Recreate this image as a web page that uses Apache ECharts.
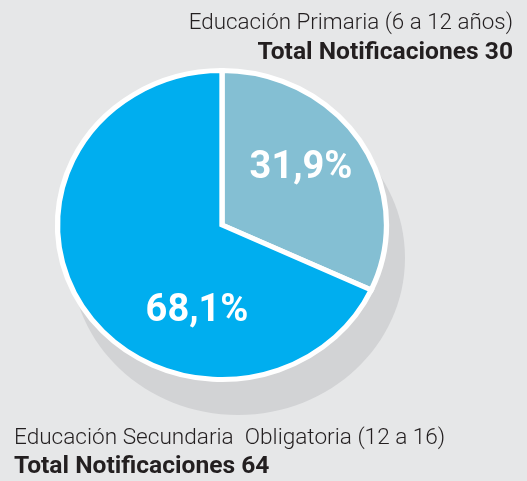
<!DOCTYPE html>
<html>
<head>
<meta charset="utf-8">
<script src="https://cdn.jsdelivr.net/npm/echarts@6/dist/echarts.min.js"></script>
<style>
  html, body { margin: 0; padding: 0; background: #E6E7E8; }
  #chart { width: 527px; height: 481px; }
</style>
</head>
<body>
<div id="chart"></div>
<script>
// Notificaciones por etapa educativa
const categories = ['Educación Primaria (6 a 12 años)', 'Educación Secundaria  Obligatoria (12 a 16)'];
const notificaciones = [30, 64];
const sliceColors = ['#84BFD3', '#00AEEF'];

// Pie geometry (slightly wider than tall)
const CX = 222, CY = 225, RY = 154.5, RX = 164.5;
// Percentage label anchors, relative to the pie centre
const LABEL_AT = [[79, -57], [-25, 86]];

const total = notificaciones.reduce((a, b) => a + b, 0);
const fmtPct = v => (v / total * 100).toFixed(1).replace('.', ',') + '%';

const chart = echarts.init(document.getElementById('chart'));

chart.setOption({
  backgroundColor: '#E6E7E8',
  animation: false,
  graphic: [
    // drop shadow under the pie
    { type: 'ellipse', z: 0, shape: { cx: CX + 16, cy: CY + 33, rx: RX + 2.5, ry: RY + 2.5 }, style: { fill: '#D2D3D5' } },
    { type: 'text', z: 10, x: 513, y: 23, style: { text: categories[0], font: '300 22.4px Roboto', fill: '#231F20', textAlign: 'right', textVerticalAlign: 'middle' } },
    { type: 'text', z: 10, x: 513, y: 53, style: { text: 'Total Notificaciones ' + notificaciones[0], font: 'bold 24.6px Roboto', fill: '#231F20', textAlign: 'right', textVerticalAlign: 'middle' } },
    { type: 'text', z: 10, x: 14, y: 438, style: { text: categories[1], font: '300 22.6px Roboto', fill: '#231F20', textAlign: 'left', textVerticalAlign: 'middle' } },
    { type: 'text', z: 10, x: 14, y: 467, style: { text: 'Total Notificaciones ' + notificaciones[1], font: 'bold 24.6px Roboto', fill: '#231F20', textAlign: 'left', textVerticalAlign: 'middle' } }
  ],
  series: [{
    type: 'custom',
    coordinateSystem: 'none',
    z: 5,
    data: notificaciones.map((v, i) => ({ value: [v], name: categories[i] })),
    renderItem: function (params, api) {
      const i = params.dataIndex;
      const v = api.value(0);
      let before = 0;
      for (let k = 0; k < i; k++) before += notificaciones[k];
      const a0 = -Math.PI / 2 + before / total * Math.PI * 2;
      const a1 = a0 + v / total * Math.PI * 2;
      return {
        type: 'group',
        children: [
          {
            type: 'sector',
            x: CX, y: CY,
            scaleX: RX / RY, scaleY: 1,
            shape: { cx: 0, cy: 0, r0: 0, r: RY, startAngle: a0, endAngle: a1, clockwise: true },
            style: { fill: sliceColors[i], stroke: '#FFFFFF', lineWidth: 5, lineJoin: 'miter' }
          },
          {
            type: 'text',
            x: CX + LABEL_AT[i][0], y: CY + LABEL_AT[i][1],
            z2: 10,
            style: { text: fmtPct(v), font: 'bold 38px Roboto', fill: '#FFFFFF', textAlign: 'center', textVerticalAlign: 'middle' }
          }
        ]
      };
    }
  }]
});
</script>
</body>
</html>
